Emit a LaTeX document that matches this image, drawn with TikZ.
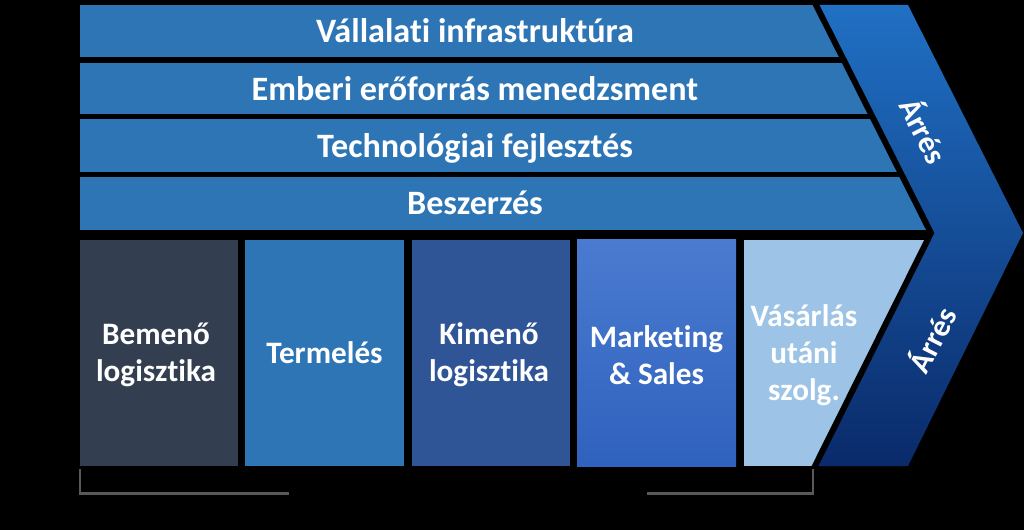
\documentclass[tikz,border=0pt]{standalone}
\usepackage{fontspec}
\setmainfont{Carlito}[Ligatures={NoCommon}]
\definecolor{supc}{HTML}{2E75B6}
\definecolor{pone}{HTML}{333F50}
\definecolor{ptwo}{HTML}{2E75B6}
\definecolor{pthree}{HTML}{2F5597}
\definecolor{pfourtop}{HTML}{4A7BD0}
\definecolor{pfourbot}{HTML}{2F62BE}
\definecolor{pfive}{HTML}{9DC3E6}
\definecolor{bandtop}{HTML}{2070C4}
\definecolor{bandmid}{HTML}{0D4A94}
\definecolor{bandbot}{HTML}{0A2A6A}
\definecolor{brk}{HTML}{595959}
\tikzset{
  suptxt/.style={text=white, font=\bfseries\fontsize{34.3}{40}\selectfont, inner sep=0pt, anchor=base},
  primtxt/.style={text=white, font=\bfseries\fontsize{31.3}{37}\selectfont, align=center, inner sep=0pt},
  margtxt/.style={text=white, font=\bfseries\fontsize{31}{36}\selectfont, inner sep=0pt},
  bracket/.style={draw=brk, line width=2.5bp}
}
\begin{document}
\begin{tikzpicture}[x=1bp,y=-1bp]
\useasboundingbox (0,0) rectangle (1024,530);
\fill[black] (0,0) rectangle (1024,530);
% chevron band
\shade[top color=bandtop, middle color=bandmid, bottom color=bandbot]
  (816,5) -- (908,5) -- (1023,233) -- (908,466) -- (815,466) -- (931,233) -- cycle;
\begin{scope}
\clip (70,-2) -- (812.5,-2) -- (931,233) -- (812,472) -- (70,472) -- cycle;
\fill[supc] (80,5) rectangle (960,57);
\fill[supc] (80,63) rectangle (960,114);
\fill[supc] (80,119) rectangle (960,172);
\fill[supc] (80,177) rectangle (960,230);
\fill[pone] (80,240) rectangle (238,466);
\fill[ptwo] (245,240) rectangle (404,466);
\fill[pthree] (412,240) rectangle (570,466);
\shade[top color=pfourtop, bottom color=pfourbot] (577,240) rectangle (736,466);
\fill[pfive] (744,240) rectangle (960,466);
\end{scope}
\draw[black, line width=6bp, line join=miter] (812.5,-2) -- (931,233) -- (812,472);
% texts
\node[suptxt] (s1) at (475,43) {Vállalati infrastruktúra};
\node[suptxt] (s2) at (475,100.5) {Emberi erőforrás menedzsment};
\node[suptxt] (s3) at (475,157.5) {Technológiai fejlesztés};
\node[suptxt] (s4) at (475,215) {Beszerzés};
\node[primtxt] (p1) at (156,355) {Bemenő\\logisztika};
\node[primtxt] (p2) at (324.5,353) {Termelés};
\node[primtxt] (p3) at (489,355) {Kimenő\\logisztika};
\node[primtxt] (p4) at (656.5,355) {Marketing\\\& Sales};
\node[primtxt] (p5) at (804,355) {Vásárlás\\utáni\\szolg.};
\node[margtxt, rotate=-63] (m1) at (925,130) {Árrés};
\node[margtxt, rotate=63] (m2) at (931,339) {Árrés};
% brackets
\draw[bracket] (80,469) -- (80,493.5) -- (289,493.5);
\draw[bracket] (647,493.5) -- (813,493.5) -- (813,469);
\end{tikzpicture}
\end{document}
